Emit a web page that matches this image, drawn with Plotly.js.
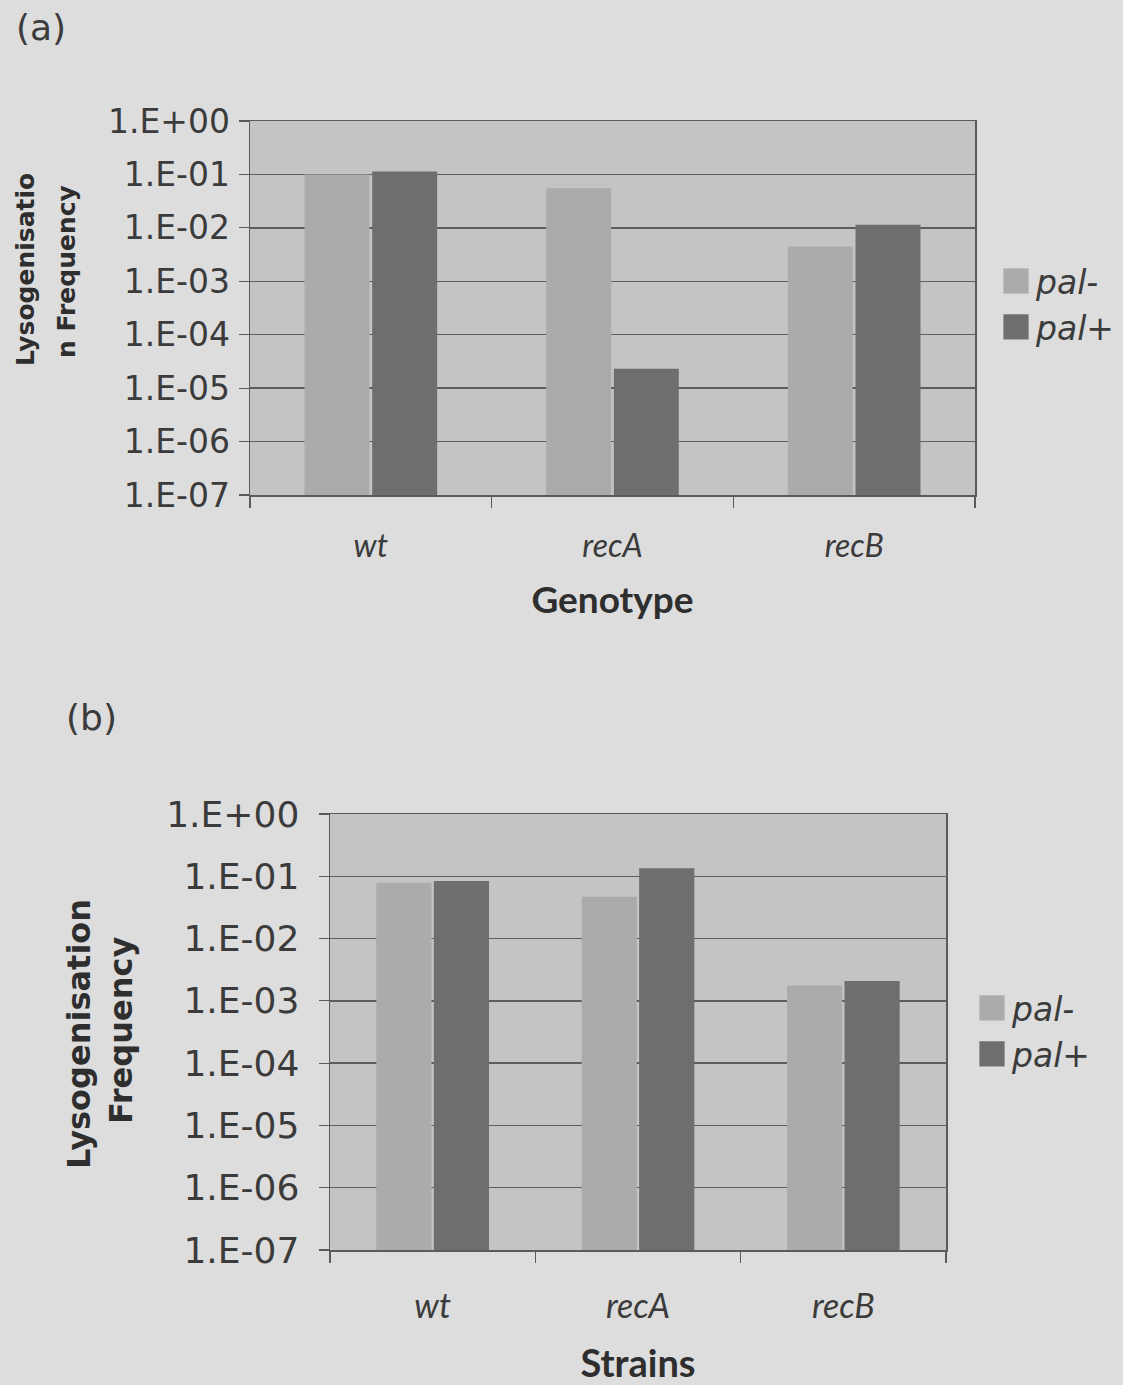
<!DOCTYPE html>
<html>
<head>
<meta charset="utf-8">
<script src="https://cdn.plot.ly/plotly-3.0.1.min.js"></script>
<style>
  html, body { margin: 0; padding: 0; background: #dddddd; }
  #chart { width: 1123px; height: 1385px; }
  .legendpoints path { transform: translate(20px, 0px) scale(2.1); }
</style>
</head>
<body>
<div id="chart"></div>
<script>
// ---- data ----
const categories = ['wt', 'recA', 'recB'];
const seriesNames = ['pal-', 'pal+'];
const genotypePalMinus = [0.10, 0.055, 0.0045];
const genotypePalPlus  = [0.114, 0.000023, 0.0114];
const strainsPalMinus  = [0.079, 0.047, 0.00176];
const strainsPalPlus   = [0.084, 0.134, 0.00209];
const yTickVals = [1, 1e-1, 1e-2, 1e-3, 1e-4, 1e-5, 1e-6, 1e-7];
const yTickText = ['1.E+00', '1.E-01', '1.E-02', '1.E-03', '1.E-04', '1.E-05', '1.E-06', '1.E-07'];

// ---- styling ----
const W = 1123, H = 1385;
const px = x => x / W;
const py = y => 1 - y / H;
const textColor = '#3b3b3b';
const colMinus = '#ababab';
const colPlus = '#6e6e6e';
const tickFontFamily = 'DejaVu Sans, Verdana, sans-serif';
const catFontFamily = 'Lato, Open Sans, sans-serif';

function bar(name, y, color, xa, ya, legend, showlegend) {
  return {
    type: 'bar', name: name, x: categories, y: y,
    xaxis: xa, yaxis: ya, legend: legend, showlegend: showlegend,
    marker: { color: color, line: { width: 0 } },
    hoverinfo: 'x+y+name'
  };
}

const data = [
  bar(seriesNames[0], genotypePalMinus, colMinus, 'x', 'y', 'legend', true),
  bar(seriesNames[1], genotypePalPlus, colPlus, 'x', 'y', 'legend', true),
  bar(seriesNames[0], strainsPalMinus, colMinus, 'x2', 'y2', 'legend2', true),
  bar(seriesNames[1], strainsPalPlus, colPlus, 'x2', 'y2', 'legend2', true)
];

function xAxis(domain, anchor, title, catSize, titleSize, standoffTicks, standoffTitle) {
  return {
    domain: domain, anchor: anchor, type: 'category',
    showline: true, linecolor: '#5a5a5a', linewidth: 1.5, mirror: true,
    ticks: 'outside', tickson: 'boundaries', ticklen: 11, tickcolor: '#5a5a5a', tickwidth: 1.2,
    ticklabelstandoff: standoffTicks,
    tickfont: { family: catFontFamily, size: catSize, color: textColor, style: 'italic' },
    showgrid: false, zeroline: false, fixedrange: true,
    title: { text: title, standoff: standoffTitle,
             font: { family: catFontFamily, size: titleSize, color: '#2e2e2e', weight: 'bold' } }
  };
}
function yAxis(domain, anchor, tickSize, labelStandoff) {
  return {
    domain: domain, anchor: anchor, type: 'log', range: [-7, 0],
    tickmode: 'array', tickvals: yTickVals, ticktext: yTickText,
    showline: true, linecolor: '#5a5a5a', linewidth: 1.5, mirror: true,
    ticks: 'outside', ticklen: 10, tickcolor: '#5a5a5a', tickwidth: 1.2,
    ticklabelstandoff: labelStandoff,
    tickfont: { family: tickFontFamily, size: tickSize, color: textColor },
    showgrid: true, gridcolor: '#5e5e5e', gridwidth: 1.3,
    zeroline: false, fixedrange: true
  };
}

function ann(text, x, y, size, angle, bold) {
  return {
    text: text, x: px(x), y: py(y), xref: 'paper', yref: 'paper', showarrow: false,
    xanchor: 'center', yanchor: 'middle', textangle: angle,
    font: { family: tickFontFamily, size: size, color: bold ? '#2e2e2e' : textColor,
            weight: bold ? 'bold' : 'normal' }
  };
}

const layout = {
  width: W, height: H,
  margin: { l: 0, r: 0, t: 0, b: 0 },
  paper_bgcolor: '#dddddd',
  plot_bgcolor: '#c4c4c4',
  barmode: 'group', bargap: 0.44, bargroupgap: 0.04,
  xaxis: xAxis([px(250), px(975)], 'y', 'Genotype', 32, 37, 22, 24),
  yaxis: yAxis([py(495), py(121)], 'x', 33, 2),
  xaxis2: xAxis([px(330), px(946)], 'y2', 'Strains', 34, 38, 26, 26),
  yaxis2: yAxis([py(1250), py(814)], 'x2', 36, 12),
  legend: {
    x: px(996), y: py(253), xanchor: 'left', yanchor: 'top',
    bgcolor: 'rgba(0,0,0,0)', borderwidth: 0,
    font: { family: tickFontFamily, size: 33, color: textColor, style: 'italic' },
    tracegroupgap: 0
  },
  legend2: {
    x: px(972), y: py(980), xanchor: 'left', yanchor: 'top',
    bgcolor: 'rgba(0,0,0,0)', borderwidth: 0,
    font: { family: tickFontFamily, size: 33, color: textColor, style: 'italic' },
    tracegroupgap: 0
  },
  annotations: [
    ann('(a)', 41, 27, 36, 0, false),
    ann('(b)', 92, 717, 36, 0, false),
    ann('Lysogenisatio', 25, 270, 25, -90, true),
    ann('n Frequency', 66, 272, 25, -90, true),
    ann('Lysogenisation', 79, 1034, 32, -90, true),
    ann('Frequency', 121, 1031, 32, -90, true)
  ]
};

Plotly.newPlot('chart', data, layout, { displayModeBar: false, staticPlot: true });
</script>
</body>
</html>
